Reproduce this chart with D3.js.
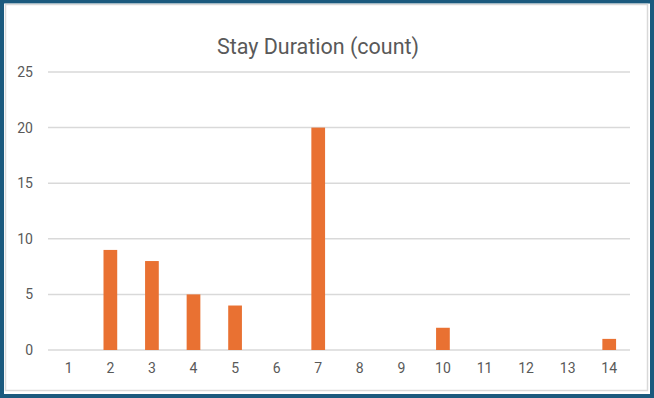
<!DOCTYPE html>
<html>
<head>
<meta charset="utf-8">
<script src="https://cdn.jsdelivr.net/npm/d3@7"></script>
<style>
  body { margin: 0; background: #fff; }
  text { font-family: Roboto, "Open Sans", sans-serif; fill: #595959; }
</style>
</head>
<body>
<div id="chart"></div>
<script>
// stay duration in days, and how many stays
var days = ["1","2","3","4","5","6","7","8","9","10","11","12","13","14"];
var counts = [0, 9, 8, 5, 4, 0, 20, 0, 0, 2, 0, 0, 0, 1];
var yTicks = [0, 5, 10, 15, 20, 25];

var w = 654, h = 398;
// plot area edges (note: "top" is reserved on window, so use plot*)
var plotL = 48, plotR = 630, plotT = 72, plotB = 350;

var svg = d3.select("#chart").append("svg")
  .attr("width", w)
  .attr("height", h);

// frame: dark blue outer, thin gray inner
svg.append("rect")
  .attr("x", 2).attr("y", 1.5).attr("width", w - 4).attr("height", h - 3.5)
  .attr("fill", "#fff").attr("stroke", "#1b5a7e").attr("stroke-width", 4);
svg.append("rect")
  .attr("x", 5.5).attr("y", 4.5).attr("width", w - 12).attr("height", h - 12)
  .attr("fill", "none").attr("stroke", "#d9d9d9").attr("stroke-width", 1.5);

var x = d3.scaleBand().domain(days).range([plotL, plotR]).paddingInner(0.67).paddingOuter(0.335);
var y = d3.scaleLinear().domain([0, 25]).range([plotB, plotT]);

// gridlines
svg.append("g").selectAll("line")
  .data(yTicks)
  .enter()
  .append("line")
  .attr("x1", plotL).attr("x2", plotR)
  .attr("y1", function(d){ return y(d); })
  .attr("y2", function(d){ return y(d); })
  .attr("stroke", "#d9d9d9")
  .attr("stroke-width", 1.5);

// y axis labels
var yAxis = d3.axisLeft(y).tickValues(yTicks).tickSize(0).tickPadding(15);
var gy = svg.append("g").attr("transform", "translate(" + plotL + ",0)").call(yAxis);
gy.select(".domain").remove();
gy.selectAll("text").attr("font-size", "14px").style("fill", "#595959");

// x axis labels
var xAxis = d3.axisBottom(x).tickSize(0).tickPadding(13);
var gx = svg.append("g").attr("transform", "translate(0," + plotB + ")").call(xAxis);
gx.select(".domain").remove();
gx.selectAll("text").attr("font-size", "14px").style("fill", "#595959");

// bars
svg.append("g").selectAll("rect")
  .data(counts)
  .enter()
  .append("rect")
  .attr("x", function(d, i){ return x(days[i]); })
  .attr("y", function(d){ return y(d); })
  .attr("width", x.bandwidth())
  .attr("height", function(d){ return plotB - y(d); })
  .attr("fill", "#e97132");

// title
svg.append("text")
  .attr("x", 318)
  .attr("y", 54)
  .attr("text-anchor", "middle")
  .attr("font-size", "21.5px")
  .text("Stay Duration (count)");
</script>
</body>
</html>
